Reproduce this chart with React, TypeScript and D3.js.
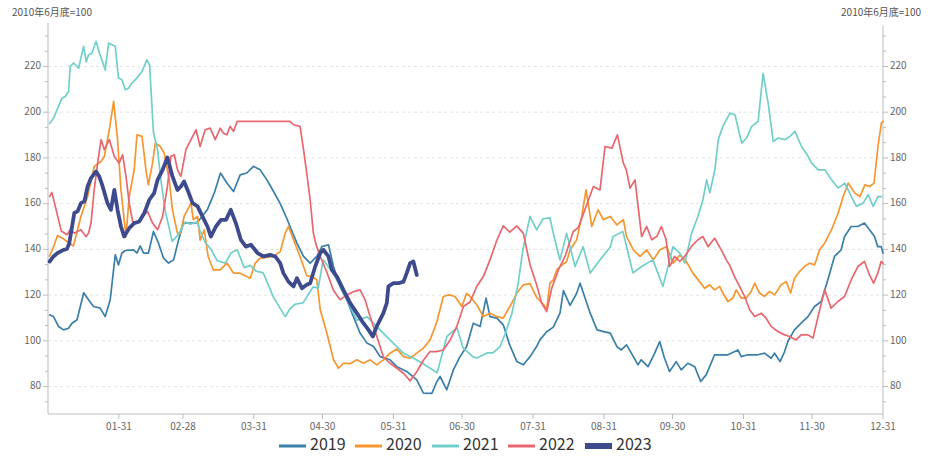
import React from "react";
import * as d3 from "d3";

type Pt = [number, number];

// [day-of-year, index value]
const s2019: Pt[] = [[0.7,111.4],[2.4,110.6],[4.6,106.3],[6.8,104.8],[9.0,105.5],[10.5,107.7],[12.7,109.2],[15.6,121],[17.7,118],[19.9,115],[22.8,114.3],[25.0,110.6],[27.2,118],[29.4,137.6],[30.8,133.2],[32.3,138.4],[33.8,139.5],[37.4,139.8],[38.9,138.4],[40.3,141.5],[41.8,138.4],[43.9,138.4],[46.1,147.8],[48.3,142.7],[50.5,136.2],[52.7,134],[54.9,135.4],[57.1,144.2],[59.2,151.5],[65.2,151.6],[69.6,157.3],[72.7,164.7],[75.4,173.4],[78.2,169],[81.1,165.3],[84.0,172.6],[86.9,173.4],[89.8,176.3],[92.7,174.8],[95.7,170.4],[98.6,165.3],[101.5,160],[104.4,153.5],[105.8,150],[108.8,142.7],[111.7,136.9],[114.6,134],[117.5,136.9],[119.7,141.2],[122.6,142],[124.8,132.5],[127.7,123.8],[130.6,118],[133.5,110.6],[136.4,103.4],[139.4,99],[142.3,97.5],[145.2,93.1],[149.5,91.7],[152.5,88.7],[156.8,86.6],[161.2,82.9],[164.1,77.1],[167.8,77],[169.9,82],[171.4,84.4],[174.3,78.6],[177.2,87.3],[180.1,93.1],[183.0,97.5],[185.9,107.7],[188.9,106.3],[191.5,118.7],[193.2,110.6],[196.2,109.9],[199.0,107],[201.9,98],[204.9,91],[207.8,89.5],[210.7,93.1],[213.6,97.5],[215.0,100.4],[218.0,104],[220.9,106],[223.8,112.1],[225.3,122],[228.2,115.5],[231.1,120.8],[232.6,125.2],[235.5,116.5],[237.0,112.1],[240.0,104.8],[242.9,104],[245.8,103.4],[248.7,97.5],[250.6,96],[252.9,98.2],[255.0,94.6],[257.9,89.5],[259.3,91.7],[262.3,88.7],[265.2,94.6],[267.4,99.7],[269.5,92.4],[271.7,86.6],[274.6,90.9],[276.8,87.3],[279.7,90.2],[282.7,88.7],[285.3,82.2],[287.7,85.1],[291.4,93.9],[294.3,93.9],[297.2,93.9],[301.6,96],[303.0,93.1],[305.9,93.9],[310.3,93.9],[313.2,94.6],[316.1,92.4],[317.6,94.6],[320.0,90.9],[322.0,95.3],[323.4,99.7],[326.3,104.8],[329.2,107.7],[332.2,110.6],[335.1,115],[338.0,117.2],[340.9,126.7],[343.8,136.9],[346.7,139.8],[348.2,145.6],[351.1,150],[354.0,150],[356.9,151.5],[359.1,148.6],[361.3,145.6],[362.7,141.2],[364.2,141.2],[365,138.4]];

const s2020: Pt[] = [[0.6,137],[2.4,141],[4.1,146],[6.2,145],[8.9,143],[11.1,141.5],[12.8,148],[14.4,154.4],[17.3,163],[20.2,176.3],[23.2,178.4],[24.6,180.6],[26.8,192.3],[28.7,204.7],[30.4,188],[31.9,166],[34.1,145.6],[35.5,163.1],[37.7,174.8],[38.9,190.1],[41.1,189.4],[42.8,174.8],[43.9,168.2],[45.7,177.7],[46.9,186.5],[49.1,185],[50.8,182.1],[53.0,170.4],[54.4,157.3],[56.6,147.1],[57.8,147],[59.5,154.4],[62.5,160.2],[63.5,153],[65.4,154.4],[66.5,144],[68.3,148.5],[70.0,136.9],[72.3,131],[75.3,131],[78.2,134],[81.1,129.6],[84.0,129.6],[86.9,128.1],[88.4,127.4],[90.6,134],[92.7,136.2],[95.7,136.5],[98.6,137],[101.5,139],[103.7,147.1],[105.1,150],[107.3,144.2],[110.2,136.9],[113.1,128.5],[115.3,128.1],[117.5,126.7],[119.0,113.6],[121.9,103.4],[124.8,91.7],[127.0,88],[129.1,90.2],[132.1,90],[135.0,91.7],[137.9,90.2],[140.8,91.7],[143.7,89.5],[146.6,91.7],[149.5,94.6],[152.5,96.4],[155.4,93.1],[158.3,92.4],[161.2,94.6],[164.1,96.8],[167.0,100.4],[169.9,108],[172.8,119.4],[175.3,120.1],[177.9,119.4],[180.9,115],[183.0,120.8],[184.5,119.4],[187.4,115.8],[190.3,110.6],[193.2,112.1],[196.2,110.6],[199.0,109.9],[201.9,115],[204.9,120.8],[207.8,124.5],[210.7,125],[213.6,119],[216.5,116],[218.0,114],[219.4,125.2],[220.9,126.7],[222.4,131],[223.8,132.5],[226.7,134.7],[228.2,139.8],[231.1,144.2],[233.3,154.4],[235.2,166],[237.7,150],[240.5,157.3],[242.7,153],[245.8,154.4],[248.7,150.7],[251.5,153],[252.9,145.6],[255.9,139.8],[258.8,136.9],[261.7,139.8],[264.6,135.4],[267.5,139.8],[270.4,141.2],[273.3,134],[276.2,137.5],[279.0,134.7],[281.9,129.6],[284.8,125.9],[287.0,123],[289.2,124.5],[291.4,122.3],[293.6,123.8],[295.0,120.9],[297.2,117.2],[299.4,118.7],[300.8,122.3],[303.0,118.7],[305.2,118.7],[307.4,121.6],[308.9,125.2],[311.0,120.9],[313.2,119.4],[315.4,121.6],[317.6,120.1],[320.5,124.5],[322.7,125.9],[324.6,120.9],[326.3,127.4],[328.5,130.3],[330.7,132.5],[332.9,134],[335.1,133.2],[337.3,139.8],[339.5,142.7],[342.5,148.6],[345.4,155.9],[347.6,163.1],[349.8,169],[352.7,164.6],[354.9,163.1],[357.1,168.2],[359.2,167.5],[361.1,169],[362.8,185],[364.3,195.2],[365.0,196]];

const s2021: Pt[] = [[0.7,195],[2.4,197.4],[4.6,202.5],[6.1,206],[7.6,207],[9.0,209],[9.7,220],[11.2,221.5],[13.4,219.3],[15.6,228.8],[16.7,222],[17.7,225],[19.2,225.8],[21.0,231],[22.5,225.8],[24.3,220.7],[25.0,218.5],[26.5,230.2],[28.0,229.5],[29.4,228.8],[30.8,215],[32.3,214.2],[33.8,209.8],[35.2,210.5],[36.7,212.7],[38.9,215],[41.1,217.8],[43.2,222.9],[44.4,220.7],[46.1,191],[47.9,183.6],[49.4,170],[51.2,157],[54.3,143.5],[56.6,146],[57.8,148],[60.0,152],[62.2,151],[65.2,152],[66.5,148],[68.7,143],[71.3,140],[74.0,135],[77.5,134],[80.1,138.5],[82.7,139.8],[85.8,132],[88.4,133],[91.0,130.5],[94.1,129.7],[98.6,119],[103.7,110.6],[105.8,114],[108.0,116],[111.5,116.6],[115.9,123.6],[118.1,123],[120.3,135.4],[124.6,129.7],[132.1,115],[135.1,109],[139.5,110.5],[143.9,106],[149.5,100.4],[155.2,94.7],[159.6,92.5],[164.0,90],[170.1,86],[174.4,102],[178.8,105.7],[181.4,97],[185.8,93],[187.5,92.5],[191.9,94.7],[194.5,94.7],[197.6,97.5],[199.8,103],[202.8,112],[205.5,125],[207.6,140],[210.7,154.4],[213.6,148.5],[216.4,153.4],[219.4,153.8],[221.6,144],[223.8,135.4],[226.7,147],[230.4,132.5],[233.9,141.2],[237.0,129.7],[241.3,135.4],[245.8,141],[247.0,145.6],[251.3,147.8],[255.7,129.7],[259.5,132.5],[264.4,135.4],[268.8,123.8],[273.2,141.2],[276.2,138.4],[278.4,134],[281.3,147],[284.1,154.4],[286.3,161.7],[287.9,170.4],[289.3,164.7],[291.5,174.8],[293.0,188],[295.0,193.8],[298.1,199.6],[300.3,198.9],[303.2,186.5],[305.4,188.7],[307.6,193.8],[310.4,196],[312.6,217],[314.8,204],[317.0,187.2],[319.2,188.7],[322.1,188],[324.3,189.4],[326.5,191.6],[329.4,185],[332.3,180.6],[333.8,177.7],[336.7,174.8],[339.6,174.8],[342.5,170.4],[345.4,166.8],[348.3,169],[351.2,163.1],[353.4,158.8],[356.3,160.2],[358.5,163.9],[360.7,158.8],[362.8,163.1],[364.3,163.1]];

const s2022: Pt[] = [[0.7,163.1],[1.7,164.9],[3.2,158.8],[4.6,153],[5.8,148],[8.3,146.4],[9.7,148.6],[11.5,147.1],[14.4,148.6],[16.6,145.6],[17.7,147.1],[18.8,151.5],[20.2,166],[21.7,177.7],[23.2,188],[24.6,183.6],[26.8,188],[29.0,180.6],[31.1,177.7],[32.6,181.4],[34.1,171.9],[35.5,160.2],[37.0,152.2],[39.1,151.5],[41.3,154.4],[43.5,156.6],[45.7,151.5],[47.9,148.6],[50.1,154.4],[52.2,167.5],[53.7,180.6],[55.2,181.4],[56.6,174.8],[58.1,171.9],[60.3,183.6],[62.5,188],[64.7,192.3],[66.5,185],[68.7,192.3],[70.9,193],[73.1,188],[75.3,193],[76.7,190.8],[78.2,190.1],[79.6,193.8],[81.1,191.6],[82.7,196],[105.8,196],[107.3,194.5],[110.2,193.8],[111.7,183.6],[113.1,173.4],[114.6,161.7],[116.0,147.1],[117.2,142],[119.0,136.9],[121.9,130],[124.8,122],[127.7,118],[130.6,120],[133.5,121.5],[136.4,122.3],[138.6,118],[140.8,110.6],[143.7,102],[146.6,93],[149.5,90.2],[152.5,88],[155.4,85.8],[158.3,82.5],[161.2,86.5],[164.1,91.5],[167.0,95.3],[169.9,95.3],[172.8,96],[175.8,100.4],[178.7,106.3],[181.6,115],[184.5,117],[187.4,123.8],[190.3,128.1],[193.2,135.4],[196.2,144],[199.0,150.3],[201.9,147.5],[204.9,150.3],[207.8,147],[210.7,133.3],[213.6,124.5],[215.8,116.5],[218.0,112.8],[220.2,123],[223.1,131],[226.0,136.9],[229.6,147.8],[231.8,149.5],[234.7,157.3],[238.4,167.5],[241.3,166],[243.5,185],[246.5,184.3],[248.9,190.1],[251.5,177.7],[252.8,174.8],[254.4,166.8],[256.6,170.4],[259.5,145.6],[261.7,150],[263.9,144.2],[266.1,145.6],[268.1,150],[270.2,144.2],[271.7,132.5],[273.9,136.9],[276.1,134.7],[278.3,136.9],[281.2,141.2],[284.1,144.2],[286.3,145.6],[288.5,141.2],[291.4,144.9],[294.3,139.8],[296.5,135.4],[297.9,133.2],[300.1,128.1],[302.3,123.8],[304.5,119.4],[306.7,113.6],[308.9,110.6],[311.8,112.1],[313.9,109.9],[316.1,106.3],[319.0,104.1],[322.0,102.6],[324.2,101.9],[327.0,100.4],[329.2,102.6],[332.2,102.6],[334.4,101.2],[336.6,110.6],[339.5,122.3],[342.3,114.3],[345.3,117.2],[348.2,119.4],[351.1,126.7],[354.0,132.5],[356.9,134.7],[359.1,128.8],[360.9,125.2],[362.7,129.6],[364.2,134.7],[365.0,134]];

const s2023: Pt[] = [[0.7,134.7],[2.4,136.9],[4.2,138.4],[6.8,139.8],[8.3,140.2],[9.3,142.7],[11.5,155.9],[12.9,156.6],[14.4,160.2],[15.9,161],[17.3,167.5],[18.8,171.2],[21.0,174.1],[22.4,171.9],[23.9,167.5],[26.0,160.2],[27.5,157.3],[29.0,166],[30.4,157.3],[31.9,150],[33.3,145.6],[35.5,149.3],[37.7,151.5],[39.9,152.2],[42.1,155.9],[44.3,161.7],[46.4,164.6],[47.9,170.4],[50.1,174.8],[52.2,180.2],[54.4,171.9],[56.6,166],[58.1,167.5],[59.5,169.7],[61.0,166],[63.2,160.2],[65.4,158.8],[67.5,154.4],[69.7,150],[71.2,145.6],[73.4,150],[75.6,152.9],[77.8,152.9],[79.9,157.3],[82.1,151.5],[84.3,144.2],[86.5,141.2],[88.7,142],[91.6,138.4],[94.2,136.9],[97.1,137.6],[99.3,136.9],[101.5,134],[102.9,129.6],[105.1,125.9],[107.3,123.8],[108.8,127.4],[111.0,123],[113.1,124.5],[114.6,125.2],[116.8,132.5],[119.0,138.4],[120.4,139.8],[122.6,136.9],[124.1,131],[126.3,128.1],[129.1,122.3],[132.1,116.5],[135.0,112.1],[137.9,107.7],[140.1,104.8],[142.0,101.9],[143.7,106.3],[146.6,112.1],[148.1,116.5],[148.8,123.8],[151.0,125.2],[153.2,125.2],[155.4,125.9],[156.8,129.6],[158.3,134],[159.7,134.7],[161.2,128.8]];

const seriesNames = ["2019", "2020", "2021", "2022", "2023"];
const seriesData = [s2019, s2020, s2021, s2022, s2023];
const seriesColors = ["#3a7fa9", "#f5962f", "#70cfca", "#e8676f", "#3d4b8e"];

const xTickDays = [31, 59, 90, 120, 151, 181, 212, 243, 273, 304, 334, 365];
const xTickLabels = ["01-31", "02-28", "03-31", "04-30", "05-31", "06-30", "07-31", "08-31", "09-30", "10-31", "11-30", "12-31"];
const yTicks = [80, 100, 120, 140, 160, 180, 200, 220];
const axisTitle = "2010年6月底=100";

const W = 928, H = 456;
const X0 = 48, X1 = 883, YB = 414, YT = 23;

export default function App() {
  const x = d3.scaleLinear().domain([0, 365]).range([X0, X1]);
  const y = d3.scaleLinear().domain([68, 239]).range([YB, YT]);
  const line = d3.line<Pt>().x((d) => x(d[0])).y((d) => y(d[1]));

  const minor: number[] = [];
  for (let k = -1; k < 30; k++) {
    const v = 80 + (k * 20) / 3;
    if (v > 68 && v < 239 && k % 3 !== 0) minor.push(v);
  }
  const font = "'Noto Sans CJK SC', 'Noto Sans', sans-serif";
  const axisColor = "#bdbdbd";
  const labelColor = "#666";

  const legendStarts = [279, 355, 432, 508, 585];

  return (
    <svg width={W} height={H} style={{ position: "absolute", left: 0, top: 0, background: "#fff" }} fontFamily={font}>
      {yTicks.map((v) => (
        <line key={"g" + v} x1={X0} x2={X1} y1={y(v)} y2={y(v)} stroke="#e3e3e3" strokeDasharray="3,3" strokeWidth={1} />
      ))}
      <line x1={X0} x2={X0} y1={YT} y2={YB} stroke={axisColor} />
      <line x1={X1} x2={X1} y1={YT + 3} y2={YB} stroke={axisColor} />
      <line x1={X0} x2={X1} y1={YB} y2={YB} stroke={axisColor} />
      {yTicks.map((v) => (
        <g key={"t" + v}>
          <line x1={X0 - 5} x2={X0} y1={y(v)} y2={y(v)} stroke={axisColor} />
          <line x1={X1} x2={X1 + 5} y1={y(v)} y2={y(v)} stroke={axisColor} />
          <text x={X0 - 7} y={y(v)} textAnchor="end" dominantBaseline="middle" fontSize={10} fill={labelColor}>{v}</text>
          <text x={X1 + 7} y={y(v)} textAnchor="start" dominantBaseline="middle" fontSize={10} fill={labelColor}>{v}</text>
        </g>
      ))}
      {minor.map((v) => (
        <g key={"m" + v}>
          <line x1={X0 - 3} x2={X0} y1={y(v)} y2={y(v)} stroke={axisColor} />
          <line x1={X1} x2={X1 + 3} y1={y(v)} y2={y(v)} stroke={axisColor} />
        </g>
      ))}
      {xTickDays.map((dd, i) => (
        <g key={"x" + dd}>
          <line x1={x(dd)} x2={x(dd)} y1={YB} y2={YB + 5} stroke={axisColor} />
          <text x={x(dd)} y={YB + 13} textAnchor="middle" dominantBaseline="middle" fontSize={10} fill={labelColor}>{xTickLabels[i]}</text>
        </g>
      ))}
      <text x={12} y={13} fontSize={10} fill="#555" dominantBaseline="middle">{axisTitle}</text>
      <text x={921} y={13} fontSize={10} fill="#555" textAnchor="end" dominantBaseline="middle">{axisTitle}</text>
      {seriesData.map((s, i) => (
        <path key={seriesNames[i]} d={line(s) || ""} fill="none" stroke={seriesColors[i]}
          strokeWidth={i === 4 ? 3.8 : 1.7} strokeLinejoin="round" strokeLinecap="round" />
      ))}
      {seriesNames.map((n, i) => (
        <g key={"l" + n}>
          {i === 4 ? (
            <rect x={legendStarts[i]} y={443} width={27} height={6} fill={seriesColors[i]} />
          ) : (
            <line x1={legendStarts[i]} x2={legendStarts[i] + 27} y1={446} y2={446} stroke={seriesColors[i]} strokeWidth={3} />
          )}
          <text x={legendStarts[i] + 31} y={446} dominantBaseline="middle" fontSize={16} fill="#333">{n}</text>
        </g>
      ))}
    </svg>
  );
}
